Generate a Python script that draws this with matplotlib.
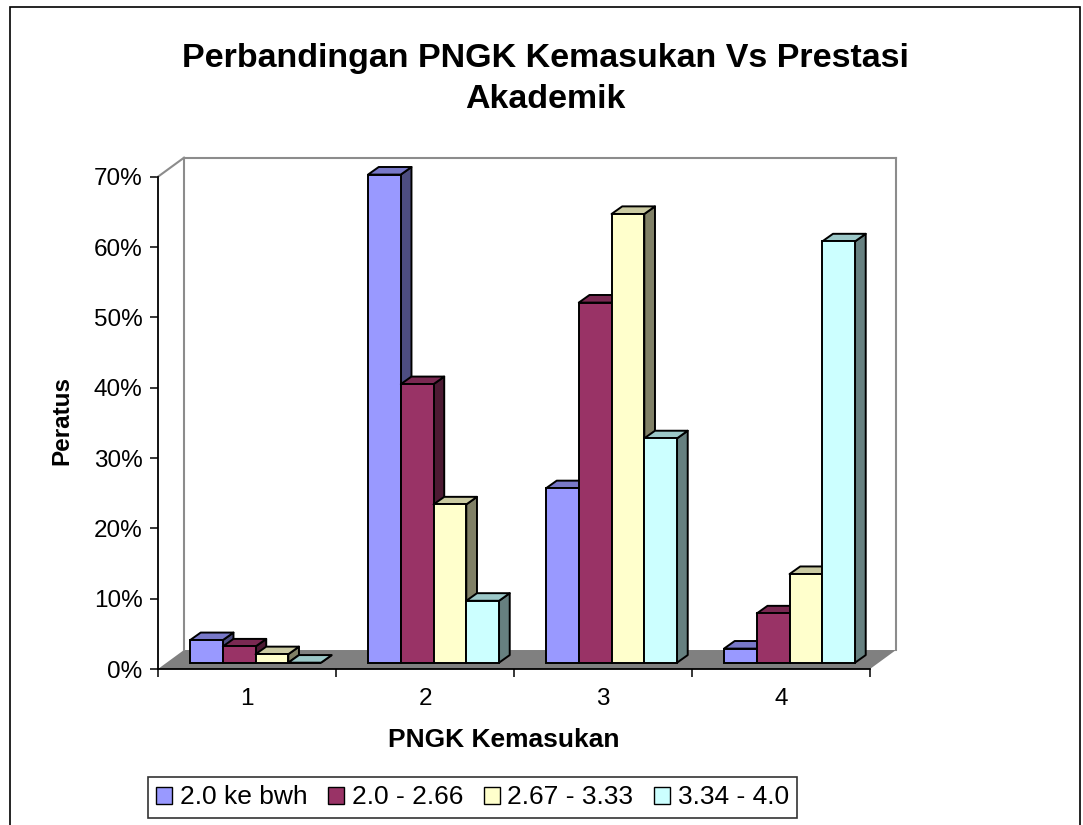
import matplotlib
matplotlib.use("Agg")
import matplotlib.pyplot as plt
from matplotlib.patches import Polygon, Rectangle, Patch
from matplotlib.ticker import FixedLocator, FuncFormatter

plt.rcParams['font.family'] = ['Liberation Sans', 'DejaVu Sans']

# ---- data ----
categories = ['1', '2', '3', '4']
series_names = ['2.0 ke bwh', '2.0 - 2.66', '2.67 - 3.33', '3.34 - 4.0']
s_bawah = [3.2, 69.4, 24.8, 2.0]
s_200_266 = [2.3, 39.6, 51.2, 7.0]
s_267_333 = [1.2, 22.5, 63.8, 12.6]
s_334_400 = [0.0, 8.8, 31.9, 59.9]
series = [s_bawah, s_200_266, s_267_333, s_334_400]
y_ticks = [0, 10, 20, 30, 40, 50, 60, 70]

title = 'Perbandingan PNGK Kemasukan Vs Prestasi\nAkademik'
x_title = 'PNGK Kemasukan'
y_title = 'Peratus'

front_cols = ['#9999FF', '#993366', '#FFFFCC', '#CCFFFF']
top_cols = ['#7878C8', '#7A2952', '#CACAA2', '#9CC8C8']
side_cols = ['#4D4D80', '#4C1A33', '#808066', '#668080']

# ---- figure ----
W, H = 1083, 825
fig = plt.figure(figsize=(W / 100, H / 100), dpi=100)
ax = fig.add_axes([158 / W, 1 - 669 / H, 712 / W, 492.3 / H])
ax.set_xlim(0.5, 4.5)
ax.set_ylim(0, 70)
ax.patch.set_visible(False)

# 3-D geometry (in data units)
DX, DY = 0.146, 2.70          # wall depth
OX, OY = 0.048, 0.90          # bar front-face offset
BX, BY = 0.060, 1.08          # bar depth
bw = 0.184                    # bar width

# floor
floor = Polygon([(0.5, 0), (4.5, 0), (4.5 + DX, DY), (0.5 + DX, DY)],
                closed=True, facecolor='#808080', edgecolor='none',
                zorder=1, clip_on=False)
ax.add_patch(floor)

# wall lines
wall_kw = dict(color='#8C8C8C', lw=1.5, zorder=2, clip_on=False)
ax.plot([0.5, 0.5 + DX], [70, 70 + DY], **wall_kw)
ax.plot([0.5 + DX, 0.5 + DX], [DY, 70 + DY], **wall_kw)
ax.plot([0.5 + DX, 4.5 + DX], [70 + DY, 70 + DY], **wall_kw)
ax.plot([4.5 + DX, 4.5 + DX], [70 + DY, DY], **wall_kw)

# bars
cat_pos = [1, 2, 3, 4]
k = 0
for ci, c in enumerate(cat_pos):
    for si, vals in enumerate(series):
        v = vals[ci]
        left = c - 2 * bw + si * bw + OX
        bottom = OY
        z = 10 + 3 * k
        top_y = bottom + v
        side = Polygon([(left + bw, bottom), (left + bw + BX, bottom + BY),
                        (left + bw + BX, top_y + BY), (left + bw, top_y)],
                       closed=True, facecolor=side_cols[si], edgecolor='black',
                       lw=1.4, zorder=z, clip_on=False, joinstyle='round')
        top = Polygon([(left, top_y), (left + bw, top_y),
                       (left + bw + BX, top_y + BY), (left + BX, top_y + BY)],
                      closed=True, facecolor=top_cols[si], edgecolor='black',
                      lw=1.4, zorder=z + 1, clip_on=False, joinstyle='round')
        ax.add_patch(side)
        ax.add_patch(top)
        ax.bar([left], [v], width=bw, bottom=bottom, align='edge',
               color=front_cols[si], edgecolor='black', linewidth=1.4,
               zorder=z + 2, clip_on=False)
        k += 1

# axes styling
for s in ['top', 'right']:
    ax.spines[s].set_visible(False)
ax.spines['left'].set_linewidth(1.3)
ax.spines['bottom'].set_linewidth(1.3)
ax.spines['left'].set_zorder(5)
ax.spines['bottom'].set_zorder(5)

ax.yaxis.set_major_locator(FixedLocator(y_ticks))
ax.yaxis.set_major_formatter(FuncFormatter(lambda v, p: f'{int(v)}%'))
ax.tick_params(axis='y', direction='out', length=6, width=1.1, pad=5,
               labelsize=17.5, colors='black')

ax.set_xticks(cat_pos)
ax.set_xticklabels(categories)
ax.set_xticks([0.5, 1.5, 2.5, 3.5, 4.5], minor=True)
ax.tick_params(axis='x', which='major', length=0, pad=14, labelsize=17.5)
ax.tick_params(axis='x', which='minor', direction='out', length=6, width=1.1)

# texts
fig.text(545 / W, 1 - 79 / H, title, ha='center', va='center',
         fontsize=24.5, fontweight='bold', linespacing=1.38)
fig.text(504 / W, 1 - 740 / H, x_title, ha='center', va='center',
         fontsize=19, fontweight='bold')
fig.text(62 / W, 1 - 421 / H, y_title, ha='center', va='center',
         fontsize=17.5, fontweight='bold', rotation=90)

# legend
handles = [Patch(facecolor=front_cols[i], edgecolor='black', linewidth=1.0,
                 label=series_names[i]) for i in range(4)]
leg = fig.legend(handles=handles, loc='center', ncol=4,
                 bbox_to_anchor=(472.5 / W, 1 - 797.5 / H),
                 fontsize=19, frameon=True, fancybox=False,
                 handlelength=0.6, handleheight=0.6, handletextpad=0.3,
                 columnspacing=0.78, borderpad=0.32, borderaxespad=0)
leg.get_frame().set_edgecolor('black')
leg.get_frame().set_linewidth(1.2)

# outer chart border
fig.add_artist(Rectangle((9.5 / W, -0.02), (1080 - 9.5) / W, 1 - 6.5 / H + 0.02,
                         transform=fig.transFigure, fill=False,
                         edgecolor='black', linewidth=1.2))

fig.savefig('out.png', dpi=100)
